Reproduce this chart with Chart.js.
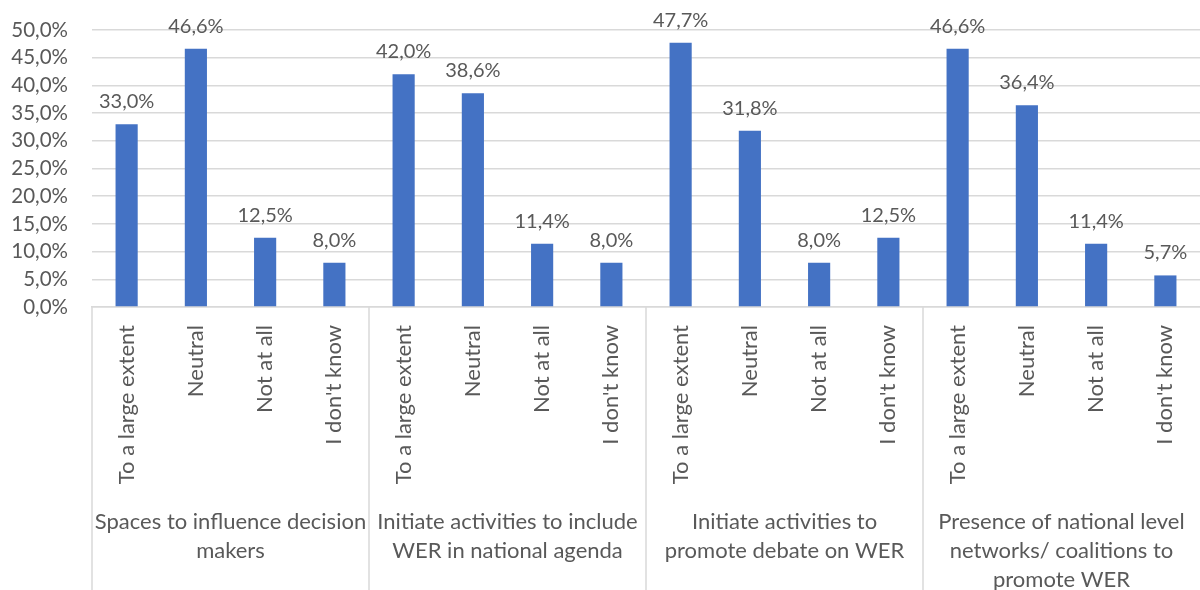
<!DOCTYPE html>
<html>
<head>
<meta charset="utf-8">
<script src="https://cdn.jsdelivr.net/npm/chart.js@4"></script>
<style>
  html, body { margin: 0; padding: 0; background: #fff; }
  #wrap { width: 1200px; height: 590px; }
</style>
</head>
<body>
<div id="wrap"><canvas id="chart"></canvas></div>
<script>
// answer options, repeated for every question group
const answers = ["To a large extent", "Neutral", "Not at all", "I don't know"];

// question groups (already split into the lines they are printed on)
const groups = [
    ["Spaces to influence decision", "makers"],
    ["Initiate activities to include", "WER in national agenda"],
    ["Initiate activities to", "promote debate on WER"],
    ["Presence of national level", "networks/ coalitions to", "promote WER"]
];

// share of respondents (%), four answers per group
const shares = [
    33.0, 46.6, 12.5, 8.0,
    42.0, 38.6, 11.4, 8.0,
    47.7, 31.8, 8.0, 12.5,
    46.6, 36.4, 11.4, 5.7
];

const yTicks = { min: 0, max: 50, step: 5 };

const FONT = "Lato, 'Open Sans', sans-serif";
const TEXT = '#595959';
const LINE = '#d9d9d9';

const labels = [];
groups.forEach(() => answers.forEach(a => labels.push(a)));

const pct = v => v.toFixed(1).replace('.', ',') + '%';

// value labels above each bar
const valueLabels = {
    id: 'valueLabels',
    afterDatasetsDraw(chart) {
        const c = chart.ctx;
        const meta = chart.getDatasetMeta(0);
        c.save();
        c.font = `20px ${FONT}`;
        c.fillStyle = TEXT;
        c.textAlign = 'center';
        c.textBaseline = 'alphabetic';
        meta.data.forEach((bar, i) => {
            c.fillText(pct(shares[i]), bar.x, bar.y - 16);
        });
        c.restore();
    }
};

// group names and the separators between groups under the axis
const groupAxis = {
    id: 'groupAxis',
    afterDraw(chart) {
        const c = chart.ctx;
        const x = chart.scales.x;
        const step = x.getPixelForValue(1) - x.getPixelForValue(0);
        const top = chart.chartArea.bottom;
        c.save();
        c.strokeStyle = LINE;
        c.lineWidth = 1.5;
        c.font = `22px ${FONT}`;
        c.fillStyle = TEXT;
        c.textAlign = 'center';
        c.textBaseline = 'middle';
        groups.forEach((lines, g) => {
            const left = x.getPixelForValue(g * answers.length) - step / 2;
            const right = left + step * answers.length;
            c.beginPath();
            c.moveTo(left, top);
            c.lineTo(left, chart.height);
            c.stroke();
            lines.forEach((t, k) => {
                c.fillText(t, (left + right) / 2, 522 + k * 29);
            });
        });
        c.restore();
    }
};

new Chart(document.getElementById('chart'), {
    type: 'bar',
    data: {
        labels: labels,
        datasets: [{
            data: shares,
            backgroundColor: '#4472c4',
            categoryPercentage: 1,
            barPercentage: 0.32
        }]
    },
    options: {
        responsive: true,
        maintainAspectRatio: false,
        animation: false,
        layout: { padding: { top: 30, right: 0, bottom: 0, left: 0 } },
        plugins: { legend: { display: false }, tooltip: { enabled: false } },
        scales: {
            x: {
                grid: { display: false },
                border: { display: true, color: LINE, width: 1.5 },
                ticks: {
                    autoSkip: false,
                    minRotation: 90,
                    maxRotation: 90,
                    padding: 10,
                    color: TEXT,
                    font: { family: FONT, size: 22 }
                },
                afterFit(s) {
                    s.height = 283;
                    s.paddingLeft = 0;
                    s.paddingRight = 0;
                }
            },
            y: {
                min: yTicks.min,
                max: yTicks.max,
                border: { display: false },
                grid: { color: LINE, lineWidth: 1.5, drawTicks: false },
                ticks: {
                    stepSize: yTicks.step,
                    padding: 24,
                    color: TEXT,
                    font: { family: FONT, size: 20.5 },
                    callback: v => pct(v)
                },
                afterFit(s) {
                    s.width = 92;
                    s.paddingTop = 0;
                    s.paddingBottom = 0;
                }
            }
        }
    },
    plugins: [valueLabels, groupAxis]
});
</script>
</body>
</html>
